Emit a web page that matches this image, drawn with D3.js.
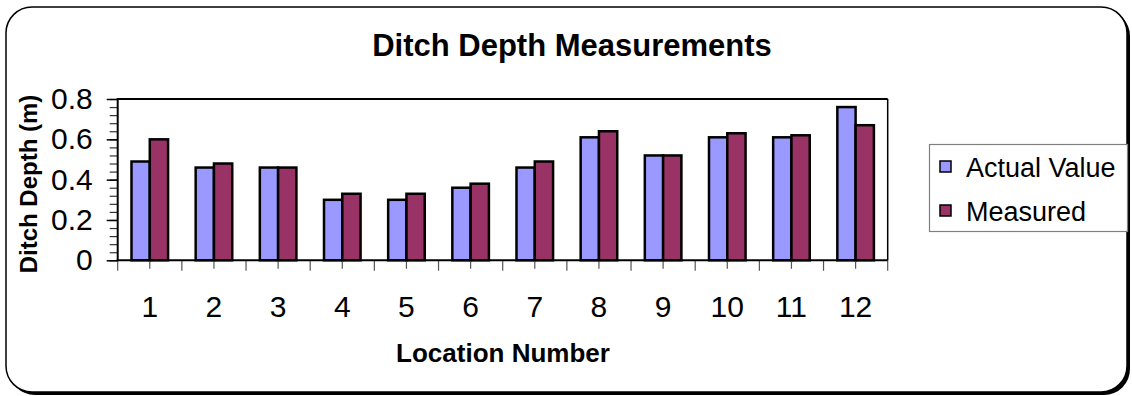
<!DOCTYPE html>
<html>
<head>
<meta charset="utf-8">
<script src="https://cdn.jsdelivr.net/npm/d3@7"></script>
<style>
  html, body { margin: 0; padding: 0; background: #fff; }
  svg { display: block; font-family: "Liberation Sans", Arial, sans-serif; }
</style>
</head>
<body>
<svg id="chart" width="1132" height="396"></svg>
<script>
// Ditch depth data per location (metres)
const locations = ["1", "2", "3", "4", "5", "6", "7", "8", "9", "10", "11", "12"];
const actualValue = [0.49, 0.46, 0.46, 0.30, 0.30, 0.36, 0.46, 0.61, 0.52, 0.61, 0.61, 0.76];
const measured    = [0.60, 0.48, 0.46, 0.33, 0.33, 0.38, 0.49, 0.64, 0.52, 0.63, 0.62, 0.67];
const seriesNames = ["Actual Value", "Measured"];
const yTicks = [0, 0.2, 0.4, 0.6, 0.8];

const colors = ["#9999FF", "#993366"];
const series = [actualValue, measured];

const svg = d3.select("#chart");

// Outer frame with drop shadow
svg.append("rect")
  .attr("x", 9).attr("y", 10).attr("width", 1121).attr("height", 385)
  .attr("rx", 26).attr("ry", 26).attr("fill", "#000");
svg.append("rect")
  .attr("x", 6).attr("y", 7).attr("width", 1121).attr("height", 385)
  .attr("rx", 26).attr("ry", 26)
  .attr("fill", "#fff").attr("stroke", "#000").attr("stroke-width", 1.5);

const plot = { left: 117.7, right: 887.7, top: 99, bottom: 260.3 };

const x0 = d3.scaleBand()
  .domain(locations)
  .range([plot.left, plot.right])
  .paddingInner(0.43)
  .paddingOuter(0.215);

const x1 = d3.scaleBand()
  .domain(seriesNames)
  .range([0, x0.bandwidth()]);

const y = d3.scaleLinear().domain([0, 0.8]).range([plot.bottom, plot.top]);

// Title
svg.append("text")
  .attr("x", 572).attr("y", 56)
  .attr("text-anchor", "middle")
  .attr("font-size", 31).attr("font-weight", "bold")
  .text("Ditch Depth Measurements");

// Bars
const groups = svg.append("g").selectAll("g")
  .data(locations)
  .join("g")
  .attr("transform", d => `translate(${x0(d)},0)`);

groups.selectAll("rect")
  .data((d, i) => seriesNames.map((s, k) => ({ s, k, v: series[k][i] })))
  .join("rect")
  .attr("x", d => x1(d.s))
  .attr("y", d => y(d.v))
  .attr("width", x1.bandwidth())
  .attr("height", d => y(0) - y(d.v))
  .attr("fill", d => colors[d.k])
  .attr("stroke", "#000")
  .attr("stroke-width", 2.5);

// Plot area frame (top and right)
svg.append("line")
  .attr("x1", plot.left).attr("x2", plot.right)
  .attr("y1", plot.top).attr("y2", plot.top)
  .attr("stroke", "#000").attr("stroke-width", 2);
svg.append("line")
  .attr("x1", plot.right).attr("x2", plot.right)
  .attr("y1", plot.top).attr("y2", plot.bottom)
  .attr("stroke", "#000").attr("stroke-width", 1.5);

// Y axis: major ticks with labels plus minor ticks
const yAxisMinor = d3.axisLeft(y)
  .tickValues(d3.range(0, 0.8001, 0.04))
  .tickSize(8).tickFormat("");
const gMinor = svg.append("g")
  .attr("transform", `translate(${plot.left},0)`)
  .call(yAxisMinor);
gMinor.select(".domain").remove();
gMinor.selectAll("line").attr("stroke", "#333").attr("stroke-width", 1.2);

const yAxis = d3.axisLeft(y)
  .tickValues(yTicks)
  .tickSize(11).tickPadding(14)
  .tickFormat(d => d === 0 ? "0" : d3.format(".1f")(d));
const gy = svg.append("g")
  .attr("transform", `translate(${plot.left},0)`)
  .call(yAxis);
gy.select(".domain").remove();
gy.selectAll("line").attr("stroke", "#000").attr("stroke-width", 1.5);
gy.selectAll("text")
  .attr("font-size", 30).attr("fill", "#000")
  .attr("font-family", "Liberation Sans, Arial, sans-serif");
svg.append("line")
  .attr("x1", plot.left).attr("x2", plot.left)
  .attr("y1", plot.top - 1).attr("y2", plot.bottom + 1)
  .attr("stroke", "#000").attr("stroke-width", 2);

// X axis: ticks at category boundaries and centres
const step = x0.step();
const firstEdge = x0(locations[0]) - x0.paddingOuter() * step;
const boundaries = d3.range(locations.length + 1).map(i => firstEdge + i * step);
svg.append("g").selectAll("line")
  .data(boundaries)
  .join("line")
  .attr("x1", d => d).attr("x2", d => d)
  .attr("y1", plot.bottom).attr("y2", plot.bottom + 10.5)
  .attr("stroke", "#555").attr("stroke-width", 1.2);
svg.append("g").selectAll("line")
  .data(locations)
  .join("line")
  .attr("x1", d => x0(d) + x0.bandwidth() / 2).attr("x2", d => x0(d) + x0.bandwidth() / 2)
  .attr("y1", plot.bottom).attr("y2", plot.bottom + 8.5)
  .attr("stroke", "#555").attr("stroke-width", 1.2);
svg.append("line")
  .attr("x1", plot.left - 1).attr("x2", plot.right)
  .attr("y1", plot.bottom).attr("y2", plot.bottom)
  .attr("stroke", "#000").attr("stroke-width", 2);

svg.append("g").selectAll("text")
  .data(locations)
  .join("text")
  .attr("x", d => x0(d) + x0.bandwidth() / 2)
  .attr("y", 317)
  .attr("text-anchor", "middle")
  .attr("font-size", 30)
  .text(d => d);

// Axis titles
svg.append("text")
  .attr("x", 503).attr("y", 362)
  .attr("text-anchor", "middle")
  .attr("font-size", 26).attr("font-weight", "bold")
  .text("Location Number");

svg.append("text")
  .attr("transform", "translate(37,184) rotate(-90)")
  .attr("text-anchor", "middle")
  .attr("font-size", 24).attr("font-weight", "bold")
  .text("Ditch Depth (m)");

// Legend
const legend = svg.append("g");
legend.append("rect")
  .attr("x", 929.5).attr("y", 144.5).attr("width", 198).attr("height", 87)
  .attr("fill", "#fff").attr("stroke", "#808080").attr("stroke-width", 1.2);
const items = legend.selectAll("g.item")
  .data(seriesNames)
  .join("g")
  .attr("class", "item")
  .attr("transform", (d, i) => `translate(0,${167 + i * 44})`);
items.append("rect")
  .attr("x", 940).attr("y", -6).attr("width", 11).attr("height", 11)
  .attr("fill", (d, i) => colors[i]).attr("stroke", "#000").attr("stroke-width", 1.5);
items.append("text")
  .attr("x", 966).attr("y", 10)
  .attr("font-size", 27)
  .text(d => d);
</script>
</body>
</html>
